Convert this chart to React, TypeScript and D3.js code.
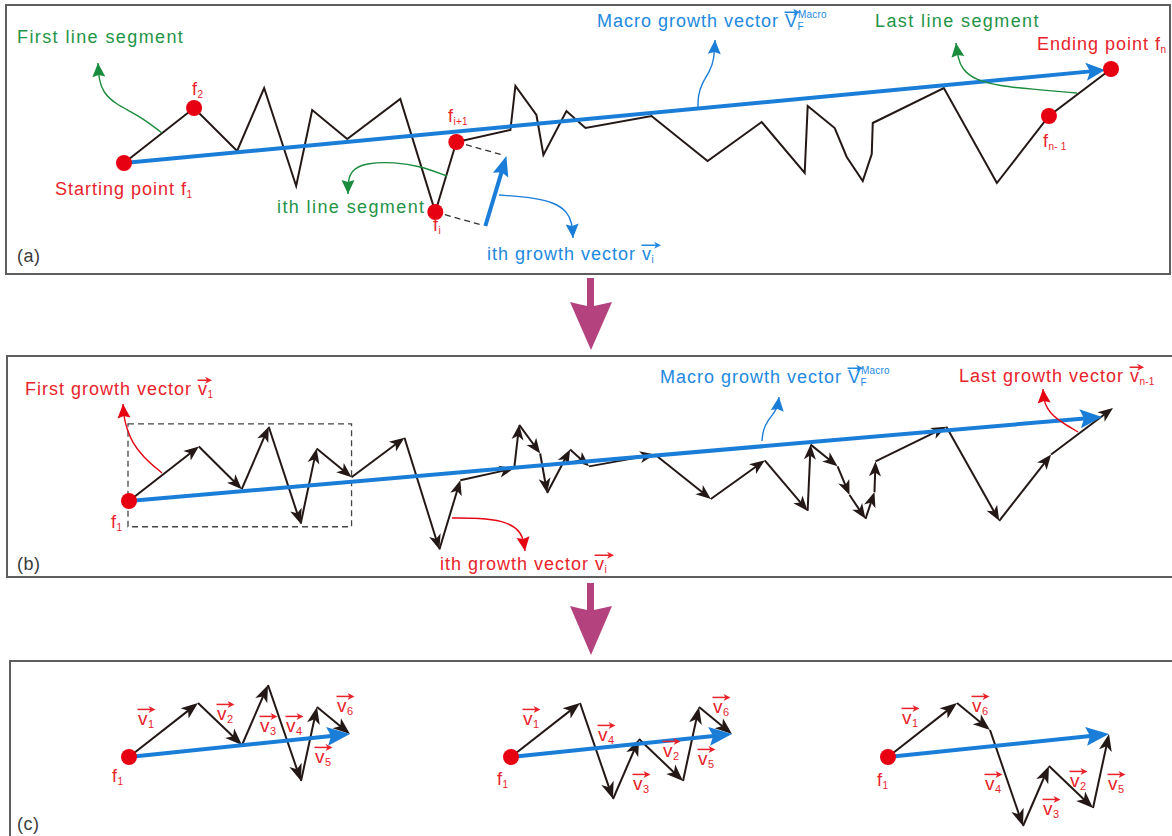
import React, { useEffect, useRef } from "react";
import * as d3 from "d3";

// Zig-zag trace: vertex offsets from the starting point f1 (x to the right, y upwards)
const traceX = [0, 70, 113, 140, 172, 188, 223, 276, 311, 332, 386, 391, 412, 419, 442, 461, 527, 583, 637, 680, 683, 710, 722, 738, 747, 748, 819, 872, 924, 986];
const traceY = [0, 55, 12, 75, -23, 53, 24, 64, -49, 21, 33, 77, 48, 8, 52, 35, 47, 2, 41, -10, 57, 35, 6, -18, 9, 40, 75, -20, 47, 94];

// Named vertices of panel (a): f1, f2, fi, fi+1, fn-1, fn
const namedVertex = [0, 1, 8, 9, 28, 29];

// Tip of the macro growth vector (offset from f1) in panels (a) and (b)
const macroTipA = [980, 93];
const macroTipB = [975, 85];

// Offset of the i-th growth vector drawn beside segment fi -> fi+1
const ithShift = [50, -14];

// Six growth vectors of the boxed part of the trace (dx, dy upwards)
const vecName = ["1", "2", "3", "4", "5", "6"];
const vecDx = [69, 44, 26, 33, 16, 33];
const vecDy = [54, -42, 60, -96, 74, -27];

// Three orderings of the same six vectors in panel (c)
const vecOrders = [
  [0, 1, 2, 3, 4, 5],
  [0, 3, 2, 1, 4, 5],
  [0, 5, 3, 2, 1, 4],
];

const W = 1172;
const H = 836;

const BLACK = "#231815";
const RED = "#e60012";
const RED_TEXT = "#e8232b";
const BLUE = "#1a7ed8";
const BLUE_TEXT = "#2189e0";
const GREEN = "#1a8c3e";
const GREEN_TEXT = "#1f9446";
const PURPLE = "#b3427f";
const FRAME = "#5e5e5e";
const GRAY_TEXT = "#3a3a3a";

type Pt = [number, number];
type Sym = { b: string; sub?: string; sup?: string; vec?: boolean; reach?: number };
type Part = string | Sym;

type G = d3.Selection<SVGGElement, unknown, null, undefined>;

function arrowHead(g: G, from: Pt, tip: Pt, len: number, hw: number, notch: number, color: string) {
  const dx = tip[0] - from[0];
  const dy = tip[1] - from[1];
  const L = Math.hypot(dx, dy) || 1;
  const ux = dx / L;
  const uy = dy / L;
  const px = -uy;
  const py = ux;
  const bx = tip[0] - ux * len;
  const by = tip[1] - uy * len;
  const pts: Pt[] = [
    tip,
    [bx + px * hw, by + py * hw],
    [tip[0] - ux * (len - notch), tip[1] - uy * (len - notch)],
    [bx - px * hw, by - py * hw],
  ];
  g.append("path")
    .attr("d", "M" + pts.map((p) => p.join(",")).join("L") + "Z")
    .attr("fill", color);
}

function vectorArrow(
  g: G,
  a: Pt,
  b: Pt,
  width: number,
  color: string,
  len: number,
  hw: number,
  notch: number
) {
  const dx = b[0] - a[0];
  const dy = b[1] - a[1];
  const L = Math.hypot(dx, dy) || 1;
  const cut = len - notch - 0.5;
  const end: Pt = [b[0] - (dx / L) * cut, b[1] - (dy / L) * cut];
  g.append("line")
    .attr("x1", a[0])
    .attr("y1", a[1])
    .attr("x2", end[0])
    .attr("y2", end[1])
    .attr("stroke", color)
    .attr("stroke-width", width);
  arrowHead(g, a, b, len, hw, notch, color);
}

function callout(g: G, pts: Pt[], color: string) {
  const line = d3.line<Pt>().x((d) => d[0]).y((d) => d[1]).curve(d3.curveBasis);
  g.append("path")
    .attr("d", line(pts) as string)
    .attr("fill", "none")
    .attr("stroke", color)
    .attr("stroke-width", 1.4);
  arrowHead(g, pts[pts.length - 2], pts[pts.length - 1], 14, 6.5, 2, color);
}

function richText(g: G, x: number, y: number, color: string, size: number, spacing: number, parts: Part[]) {
  const small = Math.round(size * 0.58);
  let cx = x;
  const put = (s: string, px: number, py: number, fs: number, ls: number) => {
    const t = g
      .append("text")
      .attr("x", px)
      .attr("y", py)
      .attr("font-size", fs)
      .attr("fill", color)
      .attr("letter-spacing", ls)
      .style("white-space", "pre")
      .text(s);
    return (t.node() as SVGTextElement).getComputedTextLength();
  };
  for (const p of parts) {
    if (typeof p === "string") {
      cx += put(p, cx, y, size, spacing);
      continue;
    }
    const w = put(p.b, cx, y, size, 0);
    let sw = 0;
    if (p.sup) sw = Math.max(sw, put(p.sup, cx + w + 1, y - size * 0.52, small, 0.2));
    if (p.sub) sw = Math.max(sw, put(p.sub, cx + w + 0.5, y + size * 0.18, small, 0.2));
    if (p.vec) {
      const ay = y - size * 0.82;
      const x0 = cx - 0.5;
      const x1 = cx + w + (p.reach ?? 6);
      g.append("line")
        .attr("x1", x0)
        .attr("y1", ay)
        .attr("x2", x1 - 3)
        .attr("y2", ay)
        .attr("stroke", color)
        .attr("stroke-width", 1.5);
      g.append("path")
        .attr("d", `M${x1},${ay}L${x1 - 7},${ay - 3.5}L${x1 - 5},${ay}L${x1 - 7},${ay + 3.5}Z`)
        .attr("fill", color);
    }
    cx += w + sw + 1;
  }
}

function draw(svg: d3.Selection<SVGSVGElement, unknown, null, undefined>) {
  svg.selectAll("*").remove();
  const root = svg.append("g") as unknown as G;

  root.append("rect").attr("width", W).attr("height", H).attr("fill", "#fff");

  // Panel frames
  const frames = [
    [6, 5, 1164, 269],
    [7, 356, 1170, 221],
    [10, 661, 1175, 200],
  ];
  frames.forEach((f) =>
    root
      .append("rect")
      .attr("x", f[0])
      .attr("y", f[1])
      .attr("width", f[2])
      .attr("height", f[3])
      .attr("fill", "none")
      .attr("stroke", FRAME)
      .attr("stroke-width", 2)
  );

  // Transition arrows between panels
  const bigArrow = (top: number, wingY: number, tipY: number) => {
    root
      .append("path")
      .attr(
        "d",
        `M587,${top}L594,${top}L594,${wingY + 4}Q603,${wingY + 2} 612,${wingY}L591,${tipY}L570,${wingY}Q578,${wingY + 2} 587,${wingY + 4}Z`
      )
      .attr("fill", PURPLE);
  };
  bigArrow(278, 302, 350);
  bigArrow(583, 606, 655);

  const trace: Pt[] = traceX.map((x, i) => [x, traceY[i]]);

  // ---------- Panel (a) ----------
  const gA = root.append("g") as unknown as G;
  const xA = d3.scaleLinear().domain([0, 986]).range([124, 1111]);
  const yA = d3.scaleLinear().domain([0, 94]).range([163, 69]);
  const pA: Pt[] = trace.map((d) => [xA(d[0]), yA(d[1])]);

  gA.append("path")
    .attr("d", d3.line<Pt>()(pA) as string)
    .attr("fill", "none")
    .attr("stroke", BLACK)
    .attr("stroke-width", 2)
    .attr("stroke-linejoin", "miter");

  // i-th growth vector with dashed guides
  const fi = trace[8];
  const fi1 = trace[9];
  const shifted = (p: Pt, k: number): Pt => [xA(p[0] + ithShift[0] * k), yA(p[1] + ithShift[1] * k)];
  [fi, fi1].forEach((p) =>
    gA.append("line")
      .attr("x1", xA(p[0]))
      .attr("y1", yA(p[1]))
      .attr("x2", shifted(p, 0.93)[0])
      .attr("y2", shifted(p, 0.93)[1])
      .attr("stroke", "#333")
      .attr("stroke-width", 1.3)
      .attr("stroke-dasharray", "6,4")
  );
  vectorArrow(gA, shifted(fi, 1), shifted(fi1, 1), 4, BLUE, 20, 8, 3);

  // Macro growth vector
  vectorArrow(gA, pA[0], [xA(macroTipA[0]), yA(macroTipA[1])], 4, BLUE, 19, 9, 4);

  // Callouts
  callout(gA, [[162, 133], [140, 116], [115, 104], [103, 92], [99, 80], [98, 63]], GREEN);
  callout(gA, [[447, 176], [420, 166], [395, 162], [365, 163], [352, 170], [348, 180], [348, 194]], GREEN);
  callout(gA, [[499, 195], [530, 197], [556, 203], [567, 212], [572, 222], [573, 238]], BLUE);
  callout(gA, [[698, 107], [698, 96], [702, 83], [710, 71], [714, 60], [715, 40]], BLUE);
  callout(gA, [[1077, 93], [1030, 89], [1000, 86], [975, 80], [962, 69], [958, 58], [956, 43]], GREEN);

  namedVertex.forEach((i) =>
    gA.append("circle").attr("cx", pA[i][0]).attr("cy", pA[i][1]).attr("r", 8).attr("fill", RED)
  );

  // ---------- Panel (b) ----------
  const gB = root.append("g") as unknown as G;
  const xB = d3.scaleLinear().domain([0, 986]).range([129, 1113]);
  const yB = d3.scaleLinear().domain([0, 94]).range([501, 408]);
  const pB: Pt[] = trace.map((d) => [xB(d[0]), yB(d[1])]);

  // Dashed frame around the first six growth vectors
  const boxed = trace.slice(0, 7);
  const bx0 = xB(d3.min(boxed, (d) => d[0]) as number) - 1;
  const bx1 = xB(d3.max(boxed, (d) => d[0]) as number);
  const by0 = yB(d3.max(boxed, (d) => d[1]) as number) - 3;
  const by1 = yB(d3.min(boxed, (d) => d[1]) as number) + 3;
  gB.append("rect")
    .attr("x", bx0)
    .attr("y", by0)
    .attr("width", bx1 - bx0)
    .attr("height", by1 - by0)
    .attr("fill", "none")
    .attr("stroke", "#444")
    .attr("stroke-width", 1.3)
    .attr("stroke-dasharray", "6,4");

  for (let i = 0; i < pB.length - 1; i++) {
    vectorArrow(gB, pB[i], pB[i + 1], 2, BLACK, 15, 6, 4);
  }
  vectorArrow(gB, pB[0], [xB(macroTipB[0]), yB(macroTipB[1])], 4, BLUE, 22, 9.5, 4);

  callout(gB, [[162, 473], [143, 457], [132, 442], [127, 429], [124, 418], [123, 404]], RED);
  callout(gB, [[762, 441], [763, 430], [768, 420], [775, 412], [778, 405], [779, 397]], BLUE);
  callout(gB, [[1078, 432], [1063, 423], [1053, 416], [1047, 408], [1044, 401], [1043, 389]], RED);
  callout(gB, [[452, 518], [480, 518], [503, 521], [517, 528], [523, 537], [525, 551]], RED);

  gB.append("circle").attr("cx", pB[0][0]).attr("cy", pB[0][1]).attr("r", 8).attr("fill", RED);

  // ---------- Panel (c) ----------
  const gC = root.append("g") as unknown as G;
  const originsC = [129, 511, 888];
  const yC = d3.scaleLinear().domain([0, 100]).range([757, 657]);
  const vecLabelPos: Pt[][] = [
    [[138, 725], [217, 720], [260, 732], [286, 732], [315, 763], [337, 712]],
    [[523, 725], [663, 757], [633, 790], [598, 741], [698, 765], [713, 713]],
    [[902, 724], [1070, 787], [1043, 815], [985, 790], [1108, 790], [972, 712]],
  ];
  const f1LabelPos: Pt[] = [[112, 782], [497, 785], [877, 786]];

  vecOrders.forEach((order, gi) => {
    const xC = d3.scaleLinear().domain([0, 100]).range([originsC[gi], originsC[gi] + 100]);
    let cx = 0;
    let cy = 0;
    const pts: Pt[] = [[xC(0), yC(0)]];
    order.forEach((k) => {
      cx += vecDx[k];
      cy += vecDy[k];
      pts.push([xC(cx), yC(cy)]);
    });
    for (let i = 0; i < pts.length - 1; i++) {
      vectorArrow(gC, pts[i], pts[i + 1], 2, BLACK, 17, 6.5, 4.5);
    }
    vectorArrow(gC, pts[0], pts[pts.length - 1], 4, BLUE, 23, 9.5, 4);
    gC.append("circle").attr("cx", pts[0][0]).attr("cy", pts[0][1]).attr("r", 8).attr("fill", RED);

    vecName.forEach((nm, k) => {
      const [lx, ly] = vecLabelPos[gi][k];
      richText(gC, lx, ly, RED_TEXT, 19, 0, [{ b: "v", sub: nm, vec: true, reach: 8 }]);
    });
    richText(gC, f1LabelPos[gi][0], f1LabelPos[gi][1], RED_TEXT, 18, 0, [{ b: "f", sub: "1" }]);
  });

  // ---------- Texts of panels (a) and (b) ----------
  const T = root.append("g") as unknown as G;
  const LS = 1.0;
  const LSG = 1.4;
  richText(T, 17, 43, GREEN_TEXT, 18, LSG, ["First line segment"]);
  richText(T, 55, 195, RED_TEXT, 18, LS, ["Starting point ", { b: "f", sub: "1" }]);
  richText(T, 192, 95, RED_TEXT, 18, 0, [{ b: "f", sub: "2" }]);
  richText(T, 277, 213, GREEN_TEXT, 18, LSG, ["ith line segment"]);
  richText(T, 433, 231, RED_TEXT, 18, 0, [{ b: "f", sub: "i" }]);
  richText(T, 448, 122, RED_TEXT, 18, 0, [{ b: "f", sub: "i+1" }]);
  richText(T, 487, 260, BLUE_TEXT, 18, LS, ["ith growth vector ", { b: "v", sub: "i", vec: true, reach: 10 }]);
  richText(T, 597, 27, BLUE_TEXT, 18, LS, ["Macro growth vector ", { b: "V", sub: "F", sup: "Macro", vec: true, reach: 3 }]);
  richText(T, 875, 27, GREEN_TEXT, 18, LSG, ["Last line segment"]);
  richText(T, 1037, 50, RED_TEXT, 18, LS, ["Ending point ", { b: "f", sub: "n" }]);
  richText(T, 1043, 147, RED_TEXT, 18, 0, [{ b: "f", sub: "n- 1" }]);
  richText(T, 17, 262, GRAY_TEXT, 18, 0.5, ["(a)"]);

  richText(T, 25, 395, RED_TEXT, 18, LS, ["First growth vector ", { b: "v", sub: "1", vec: true, reach: 5 }]);
  richText(T, 111, 528, RED_TEXT, 18, 0, [{ b: "f", sub: "1" }]);
  richText(T, 660, 383, BLUE_TEXT, 18, LS, ["Macro growth vector ", { b: "V", sub: "F", sup: "Macro", vec: true, reach: 3 }]);
  richText(T, 959, 382, RED_TEXT, 18, LS, ["Last growth vector ", { b: "v", sub: "n-1", vec: true, reach: 5 }]);
  richText(T, 440, 570, RED_TEXT, 18, LS, ["ith growth vector ", { b: "v", sub: "i", vec: true, reach: 10 }]);
  richText(T, 17, 570, GRAY_TEXT, 18, 0.5, ["(b)"]);
  richText(T, 17, 830, GRAY_TEXT, 18, 0.5, ["(c)"]);
}

export default function App() {
  const ref = useRef<SVGSVGElement>(null);
  useEffect(() => {
    if (ref.current) draw(d3.select(ref.current));
  }, []);
  return (
    <svg
      ref={ref}
      width={W}
      height={H}
      style={{ position: "absolute", left: 0, top: 0, display: "block" }}
      fontFamily="'Liberation Sans', Arial, sans-serif"
    />
  );
}
